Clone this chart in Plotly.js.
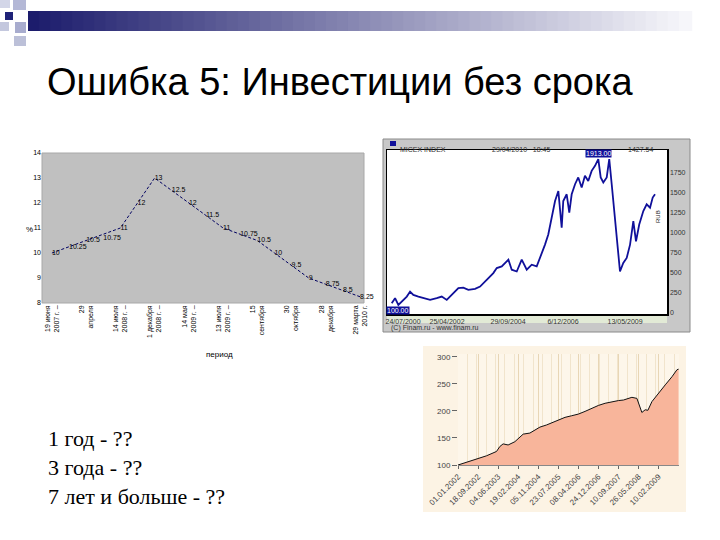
<!DOCTYPE html>
<html><head><meta charset="utf-8">
<script src="https://cdn.plot.ly/plotly-3.0.1.min.js"></script>
<style>html,body{margin:0;padding:0;background:#fff}#chart{width:720px;height:540px}</style>
</head><body><div id="chart"></div>
<script>
// ---------- Chart 1: ставка рефинансирования ----------
const rateDates = ["19 июня 2007 г.","4 февраля 2008 г.","29 апреля 2008 г.","10 июня 2008 г.","14 июля 2008 г.",
  "12 ноября 2008 г.","1 декабря 2008 г.","24 апреля 2009 г.","14 мая 2009 г.","5 июня 2009 г.","13 июля 2009 г.",
  "10 августа 2009 г.","15 сентября 2009 г.","30 сентября 2009 г.","30 октября 2009 г.","25 ноября 2009 г.",
  "28 декабря 2009 г.","24 февраля 2010 г.","29 марта 2010 г."];
const rateValues = [10,10.25,10.5,10.75,11,12,13,12.5,12,11.5,11,10.75,10.5,10,9.5,9,8.75,8.5,8.25];
const rateTickText = ["19 июня<br>2007 г. –","29<br>апреля","14 июля<br>2008 г. –","1 декабря<br>2008 г. –",
  "14 мая<br>2009 г. –","13 июля<br>2009 г. –","15<br>сентября","30<br>октября","28<br>декабря","29 марта<br>2010 г."];
const rateYTicks = [8,9,10,11,12,13,14];

// ---------- Chart 2: MICEX ----------
const micexDates = ["2000-01-25","2000-03-14","2000-05-01","2000-07-13","2000-09-01","2000-10-19","2000-12-06",
  "2001-02-18","2001-05-01","2001-08-08","2001-11-13","2002-01-25","2002-04-08","2002-06-20","2002-09-25",
  "2002-12-06","2003-02-18","2003-05-27","2003-08-08","2003-11-13","2004-02-18","2004-04-08","2004-06-20",
  "2004-09-25","2004-11-13","2005-01-25","2005-04-08","2005-06-20","2005-09-01","2005-11-13","2006-01-01",
  "2006-03-14","2006-05-01","2006-06-20","2006-08-08","2006-09-25","2006-10-19","2006-11-13","2006-12-06",
  "2007-01-25","2007-03-04","2007-04-08","2007-05-27","2007-07-13","2007-09-01","2007-10-19","2007-12-06",
  "2008-01-25","2008-03-14","2008-05-01","2008-06-05","2008-07-13","2008-09-01","2008-10-08","2008-11-13",
  "2008-12-06","2009-01-25","2009-03-14","2009-05-01","2009-06-20","2009-08-08","2009-09-25","2009-11-03",
  "2009-12-20","2010-02-18","2010-04-08","2010-05-27","2010-07-05","2010-08-08"];
const micexValues = [121,184,100,163,204,266,225,204,184,163,184,204,163,225,309,316,288,300,329,413,496,559,579,
  663,538,516,663,538,600,579,684,850,975,1184,1391,1516,1266,1059,1391,1475,1246,1475,1600,1684,1559,1704,
  1641,1766,1829,1913,1684,1621,1684,1913,1600,1391,975,516,621,684,850,1141,891,1100,1266,1350,1309,1434,1475];
const micexTickDates = ["2000-07-08","2002-04-12","2004-09-20","2006-12-03","2009-05-27"];
const micexTickText = ["24/07/2000","25/04/2002","29/09/2004","6/12/2006","13/05/2009"];
const micexYTicks = [0,250,500,750,1000,1250,1500,1750];
const micexGridDates = ["2001-03-15","2003-07-15","2005-11-15","2008-03-15"];
const micexGridValues = [500,1250,1750];

// ---------- Chart 3: индекс ----------
const fundDates = ["2002-01-01","2002-05-11","2002-08-28","2003-01-05","2003-05-15","2003-06-26","2003-08-08",
  "2003-10-12","2004-01-07","2004-03-12","2004-04-24","2004-07-20","2004-09-23","2004-11-27","2005-02-22",
  "2005-04-28","2005-07-23","2005-10-18","2006-01-13","2006-04-08","2006-07-04","2006-09-29","2006-12-24",
  "2007-03-21","2007-06-16","2007-09-10","2007-11-14","2007-12-28","2008-03-02","2008-05-06","2008-06-04",
  "2008-07-09","2008-08-21","2008-09-25","2008-11-16","2009-02-10","2009-05-08","2009-08-03","2009-10-07","2009-10-28"];
const fundValues = [100,106,112,117,125,134,139,137,143,152,157,159,164,170,174,178,183,188,191,194,199,205,210,
  214,217,219,220,222,225,223,211,197,202,201,217,233,248,263,276,277];
const fundTickDates = ["2002-01-01","2002-09-18","2003-06-04","2004-02-19","2004-11-05","2005-07-23",
  "2006-04-08","2006-12-24","2007-09-10","2008-05-26","2009-02-10"];
const fundYTicks = [100,150,200,250,300];

const textLines = ["1 год - ??","3 года - ??","7 лет и больше - ??"];
const slideTitle = "Ошибка 5: Инвестиции без срока";

// ---------- helpers (pixel -> paper) ----------
const X = p => p / 720;
const Y = p => 1 - p / 540;
const SANS = "Liberation Sans, Arial, sans-serif";

// label placement for the rate chart (style only)
const rateLabelPos = rateValues.map((_, i) => i === 3 ? "bottom right" : "middle right");

// ---------- traces ----------
const traces = [
  {x: rateDates, y: rateValues, xaxis: "x", yaxis: "y", type: "scatter", mode: "lines+text",
   line: {color: "#000060", width: 1, dash: "3px,2px"},
   text: rateValues.map(v => String(v)), textposition: rateLabelPos,
   textfont: {family: SANS, size: 7, color: "#000"}, cliponaxis: false, hoverinfo: "x+y"},
  {x: micexDates, y: micexValues, xaxis: "x2", yaxis: "y2", type: "scatter", mode: "lines",
   line: {color: "#10109a", width: 1.8}, hoverinfo: "x+y"},
  {x: fundDates, y: fundValues, xaxis: "x3", yaxis: "y3", type: "scatter", mode: "lines",
   fill: "tozeroy", fillcolor: "#f8b59b", line: {color: "#111", width: 1}, hoverinfo: "x+y"}
];

// ---------- decorative shapes ----------
const shapes = [];
const N = 60;
for (let i = 0; i < N; i++) {
  const t = i / (N - 1);
  const r = Math.round(28 + (246 - 28) * t), g = Math.round(28 + (246 - 28) * t), b = Math.round(108 + (250 - 108) * t);
  shapes.push({type: "rect", xref: "paper", yref: "paper", x0: X(28 + i * 662 / N), x1: X(28 + (i + 1.2) * 662 / N),
    y0: Y(31), y1: Y(11), fillcolor: `rgb(${r},${g},${b})`, line: {width: 0}, layer: "below"});
}
[[0,0,10,8,"#d3d6e8"],[13,0,26,10,"#b4b8d6"],[5,12,13,20,"#1f2278"],[0,22,9,31,"#c4c8de"],
 [15,22,26,33,"#a8acce"],[14,36,26,46,"#bcc0d8"]].forEach(s => shapes.push({type: "rect", xref: "paper", yref: "paper",
   x0: X(s[0]), x1: X(s[2]), y0: Y(s[3]), y1: Y(s[1]), fillcolor: s[4], line: {width: 0}, layer: "below"}));

// chart 2 frame
shapes.push({type: "rect", xref: "paper", yref: "paper", x0: X(383), x1: X(690), y0: Y(332), y1: Y(139),
  fillcolor: "#c8c8c8", line: {color: "#8a8a8a", width: 1}, layer: "below"});
shapes.push({type: "rect", xref: "paper", yref: "paper", x0: X(387), x1: X(667), y0: Y(323), y1: Y(314),
  fillcolor: "#e2ead6", line: {width: 0}, layer: "below"});
shapes.push({type: "rect", xref: "paper", yref: "paper", x0: X(390), x1: X(396), y0: Y(146), y1: Y(141),
  fillcolor: "#10109a", line: {width: 0}, layer: "below"});
// chart 3 frame
shapes.push({type: "rect", xref: "paper", yref: "paper", x0: X(423), x1: X(686), y0: Y(512), y1: Y(346),
  fillcolor: "#fcf3e4", line: {width: 0}, layer: "below"});
// plot backgrounds
shapes.push({type: "rect", xref: "x domain", yref: "y domain", x0: 0, x1: 1, y0: 0, y1: 1,
  fillcolor: "#c0c0c0", line: {color: "#a8a8a8", width: 1}, layer: "below"});
shapes.push({type: "rect", xref: "x2 domain", yref: "y2 domain", x0: 0, x1: 1, y0: 0, y1: 1,
  fillcolor: "#ffffff", line: {width: 0}, layer: "below"});
shapes.push({type: "rect", xref: "x3 domain", yref: "y3 domain", x0: 0, x1: 1, y0: 0, y1: 1,
  fillcolor: "#fdf6ea", line: {width: 0}, layer: "below"});

// ---------- annotations ----------
const iMax = micexValues.indexOf(Math.max(...micexValues));
const iMin = micexValues.indexOf(Math.min(...micexValues));
const annotations = [
  {text: slideTitle, xref: "paper", yref: "paper", x: X(45), y: Y(82), xanchor: "left", yanchor: "middle",
   showarrow: false, font: {family: "Liberation Sans, Arial", size: 38, color: "#000"}},
  ...textLines.map((t, i) => ({text: t, xref: "paper", yref: "paper", x: X(46), y: Y(438 + i * 29),
   xanchor: "left", yanchor: "middle", showarrow: false,
   font: {family: "Liberation Serif, Times New Roman, serif", size: 22, color: "#000"}})),
  {text: "период", xref: "paper", yref: "paper", x: X(204), y: Y(354), showarrow: false,
   font: {family: SANS, size: 8, color: "#000"}},
  {text: "%", xref: "paper", yref: "paper", x: X(24), y: Y(229), showarrow: false,
   font: {family: SANS, size: 8, color: "#000"}},
  {text: "MICEX INDEX", xref: "paper", yref: "paper", x: X(398), y: Y(143.5), xanchor: "left", showarrow: false,
   font: {family: SANS, size: 7, color: "#333"}},
  {text: "29/04/2010 &nbsp; 18:45", xref: "paper", yref: "paper", x: X(490), y: Y(143.5), xanchor: "left", showarrow: false,
   font: {family: SANS, size: 7, color: "#333"}},
  {text: "1427.54", xref: "paper", yref: "paper", x: X(626), y: Y(143.5), xanchor: "left", showarrow: false,
   font: {family: SANS, size: 7, color: "#333"}},
  {text: "(C) Finam.ru - www.finam.ru", xref: "paper", yref: "paper", x: X(389), y: Y(327.5), xanchor: "left",
   showarrow: false, font: {family: SANS, size: 7, color: "#333"}},
  {text: "RUB", xref: "paper", yref: "paper", x: X(663), y: Y(217), textangle: -90, showarrow: false,
   font: {family: SANS, size: 6, color: "#222"}},
  {text: micexValues[iMax].toFixed(2), xref: "x2", yref: "y2", x: micexDates[iMax], y: micexValues[iMax],
   yanchor: "bottom", yshift: 1, showarrow: false, bgcolor: "#10109a", font: {family: SANS, size: 7, color: "#fff"}, borderpad: 0},
  {text: micexValues[iMin].toFixed(2), xref: "x2", yref: "y2", x: micexDates[iMin], y: micexValues[iMin],
   yanchor: "top", yshift: -1, showarrow: false, bgcolor: "#10109a", font: {family: SANS, size: 7, color: "#fff"}, borderpad: 0}
];

const gridless = {showgrid: false, zeroline: false};
const layout = {
  width: 720, height: 540, margin: {l: 0, r: 0, t: 0, b: 0},
  paper_bgcolor: "#ffffff", plot_bgcolor: "rgba(0,0,0,0)", showlegend: false,
  font: {family: SANS, size: 7, color: "#000"},
  // chart 1
  xaxis: {...gridless, domain: [X(42), X(364)], anchor: "y", type: "category", categoryarray: rateDates,
    range: [-0.58, 18.23], tickvals: rateDates.filter((_, i) => i % 2 === 0), ticktext: rateTickText,
    tickangle: -90, tickfont: {size: 7, color: "#000"}, ticks: "", showline: false},
  yaxis: {...gridless, domain: [Y(303), Y(153)], anchor: "x", range: [8, 14], tickvals: rateYTicks,
    tickfont: {size: 7, color: "#000"}, ticks: "", showline: false},
  // chart 2
  xaxis2: {...gridless, domain: [X(387), X(667)], anchor: "y2", type: "date", range: ["1999-11-17", "2011-01-30"],
    tickvals: micexTickDates, ticktext: micexTickText, tickfont: {size: 7, color: "#333"}, ticks: "",
    showline: true, linecolor: "#000", linewidth: 1.5, mirror: true},
  yaxis2: {...gridless, domain: [Y(314), Y(150)], anchor: "x2", side: "right", range: [-12, 2025],
    tickvals: micexYTicks, tickfont: {size: 7, color: "#333"}, ticks: "",
    showline: true, linecolor: "#000", linewidth: 1.5, mirror: true},
  xaxis5: {overlaying: "x2", anchor: "y2", type: "date", range: ["1999-11-17", "2011-01-30"],
    tickvals: micexGridDates, showticklabels: false, showgrid: true, gridcolor: "#b4b4b4", gridwidth: 1, zeroline: false},
  yaxis5: {overlaying: "y2", anchor: "x2", side: "right", range: [-12, 2025], tickvals: micexGridValues,
    showticklabels: false, showgrid: true, gridcolor: "#b4b4b4", gridwidth: 1, zeroline: false},
  // chart 3
  xaxis3: {domain: [X(458), X(679)], anchor: "y3", type: "date", range: ["2002-01-01", "2009-11-02"],
    tickvals: fundTickDates, tickformat: "%d.%m.%Y", tickangle: -45, tickfont: {size: 8, color: "#444"},
    showgrid: true, gridcolor: "#e8d6b6", zeroline: false, ticks: "outside", ticklen: 3, tickcolor: "#666",
    showline: true, linecolor: "#888", linewidth: 1,
    minor: {dtick: "M4", showgrid: true, gridcolor: "#f1e4cc", ticks: ""}},
  yaxis3: {domain: [Y(465), Y(354)], anchor: "x3", range: [100, 305], tickvals: fundYTicks,
    tickfont: {size: 8, color: "#444"}, ticks: "outside", ticklen: 5, tickcolor: "#666",
    showgrid: false, zeroline: false, showline: false},
  shapes: shapes, annotations: annotations
};

Plotly.newPlot("chart", traces, layout, {displayModeBar: false, staticPlot: true});
</script>
</body></html>
